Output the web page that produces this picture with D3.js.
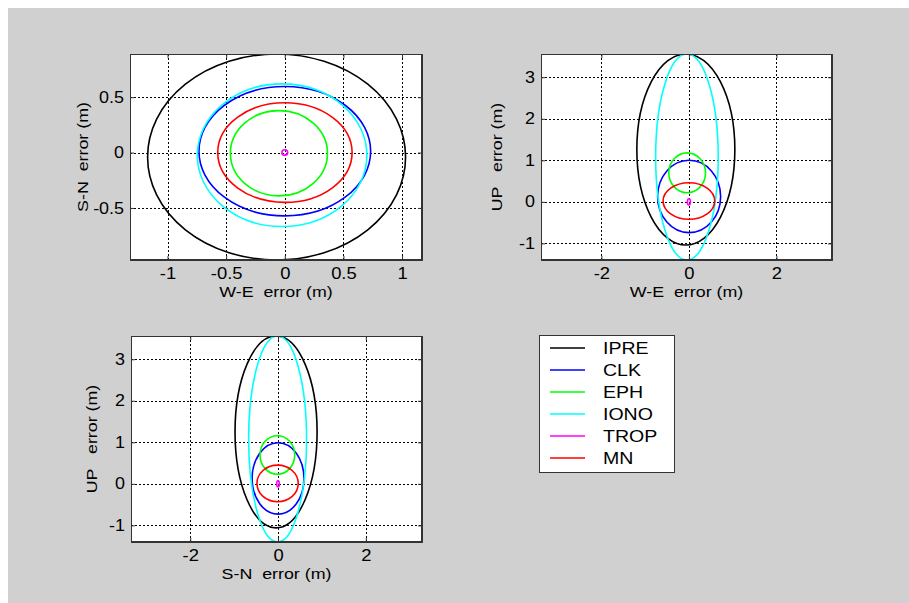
<!DOCTYPE html>
<html>
<head>
<meta charset="utf-8">
<script src="https://cdn.jsdelivr.net/npm/d3@7"></script>
<style>
  body { margin: 0; background: #fff; }
  text { font-family: Arial, "Liberation Sans", sans-serif; fill: #000; }
  /* the original bitmap fonts are noticeably wider than Arial */
  .wide { transform-box: fill-box; transform-origin: 50% 50%; transform: scaleX(1.15); }
  .wide-r { transform-box: fill-box; transform-origin: 100% 50%; transform: scaleX(1.12); }
  .wide-l { transform-box: fill-box; transform-origin: 0% 50%; transform: scaleX(1.15); }
</style>
</head>
<body>
<div id="chart"></div>
<script>
// Error sources and their colours
const sources = ["IPRE", "CLK", "EPH", "IONO", "TROP", "MN"];
const sourceColors = ["#000000", "#0000ff", "#00ff00", "#00ffff", "#ff00ff", "#ff0000"];

// Horizontal error ellipses (W-E vs S-N), in metres
const hzCenterWE = [-0.07, 0.0, -0.05, -0.023, 0.0, 0.001];
const hzCenterSN = [-0.04, 0.012, -0.006, -0.024, 0.0, 0.0];
const hzRadiusWE = [1.10, 0.732, 0.414, 0.723, 0.025, 0.573];
const hzRadiusSN = [0.93, 0.584, 0.385, 0.644, 0.025, 0.45];

// W-E vs UP error ellipses
const weUpCenterWE = [-0.07, 0.005, -0.04, -0.045, 0.0, 0.0];
const weUpCenterUP = [1.26, 0.13, 0.70, 1.08, 0.0, 0.02];
const weUpRadiusWE = [1.12, 0.72, 0.42, 0.715, 0.035, 0.59];
const weUpRadiusUP = [2.30, 0.87, 0.48, 2.48, 0.075, 0.44];

// S-N vs UP error ellipses
const snUpCenterSN = [-0.045, 0.0, -0.015, -0.01, 0.0, -0.01];
const snUpCenterUP = [1.25, 0.13, 0.695, 1.08, 0.0, 0.01];
const snUpRadiusSN = [0.935, 0.59, 0.395, 0.66, 0.03, 0.47];
const snUpRadiusUP = [2.31, 0.86, 0.465, 2.48, 0.075, 0.44];

// Axis ticks
const hzTicksX = [-1, -0.5, 0, 0.5, 1];
const hzTicksY = [-0.5, 0, 0.5];
const upTicksX = [-2, 0, 2];
const upTicksY = [-1, 0, 1, 2, 3];

const W = 909, H = 603;

const svg = d3.select("#chart")
  .append("svg")
  .attr("width", W)
  .attr("height", H);

// figure background (white strip top/left like the original export)
svg.append("rect").attr("x", 8).attr("y", 8).attr("width", W - 8).attr("height", H - 8).attr("fill", "#d0d0d0");

// plain hyphen for negatives, as in the original
const fmt = d => String(d);

function drawPanel(opts) {
  const { id, left, top, width, height, xDomain, yDomain, xTicks, yTicks,
          xLabel, yLabel, yLabelOffset, cx, cy, rx, ry } = opts;

  const x = d3.scaleLinear().domain(xDomain).range([left, left + width]);
  const y = d3.scaleLinear().domain(yDomain).range([top + height, top]);

  const g = svg.append("g");

  g.append("rect")
    .attr("x", left).attr("y", top)
    .attr("width", width).attr("height", height)
    .attr("fill", "#fff");

  g.append("clipPath").attr("id", id)
    .append("rect")
    .attr("x", left).attr("y", top)
    .attr("width", width).attr("height", height);

  // dotted grid
  g.selectAll(".gx").data(xTicks).enter().append("line")
    .attr("x1", d => Math.round(x(d)) + 0.5).attr("x2", d => Math.round(x(d)) + 0.5)
    .attr("y1", top).attr("y2", top + height)
    .attr("stroke", "#000").attr("stroke-width", 1).attr("stroke-dasharray", "2,2");
  g.selectAll(".gy").data(yTicks).enter().append("line")
    .attr("y1", d => Math.round(y(d)) + 0.5).attr("y2", d => Math.round(y(d)) + 0.5)
    .attr("x1", left).attr("x2", left + width)
    .attr("stroke", "#000").attr("stroke-width", 1).attr("stroke-dasharray", "2,2");

  // ellipses
  g.append("g").attr("clip-path", `url(#${id})`)
    .selectAll("ellipse")
    .data(sources.map((s, i) => i))
    .enter().append("ellipse")
    .attr("cx", i => x(cx[i]))
    .attr("cy", i => y(cy[i]))
    .attr("rx", i => x(cx[i] + rx[i]) - x(cx[i]))
    .attr("ry", i => y(cy[i]) - y(cy[i] + ry[i]))
    .attr("fill", "none")
    .attr("stroke", i => sourceColors[i])
    .attr("stroke-width", 1.6);

  // axes (ticks inward, like MATLAB)
  const xAxis = g.append("g")
    .attr("transform", `translate(0,${top + height})`)
    .call(d3.axisBottom(x).tickValues(xTicks).tickSize(-4).tickPadding(8).tickFormat(fmt));
  const yAxis = g.append("g")
    .attr("transform", `translate(${left},0)`)
    .call(d3.axisLeft(y).tickValues(yTicks).tickSize(-4).tickPadding(6).tickFormat(fmt));
  g.append("g")
    .attr("transform", `translate(0,${top})`)
    .call(d3.axisTop(x).tickValues(xTicks).tickSize(-4).tickFormat(""));
  g.append("g")
    .attr("transform", `translate(${left + width},0)`)
    .call(d3.axisRight(y).tickValues(yTicks).tickSize(-4).tickFormat(""));

  g.selectAll(".domain").attr("stroke", "#333");
  g.selectAll(".tick line").attr("stroke", "#333");
  g.selectAll(".tick text").attr("font-size", 16).attr("fill", "#000")
    .style("font-family", "Arial, 'Liberation Sans', sans-serif");
  xAxis.selectAll(".tick text").attr("class", "wide");
  yAxis.selectAll(".tick text").attr("class", "wide-r");

  // box outline
  g.append("rect")
    .attr("x", left + 0.5).attr("y", top + 0.5)
    .attr("width", width - 1).attr("height", height - 1)
    .attr("fill", "none").attr("stroke", "#333");

  g.append("text")
    .attr("class", "wide")
    .attr("x", left + width / 2)
    .attr("y", top + height + 37)
    .attr("text-anchor", "middle")
    .attr("font-size", 15.5)
    .style("white-space", "pre")
    .text(xLabel);

  g.append("text")
    .attr("transform", `translate(${left - yLabelOffset},${top + height / 2}) rotate(-90) scale(1.15,1)`)
    .attr("text-anchor", "middle")
    .attr("font-size", 15.5)
    .style("white-space", "pre")
    .text(yLabel);
}

drawPanel({
  id: "clipHz", left: 130, top: 54, width: 292, height: 206,
  xDomain: [-1.32, 1.17], yDomain: [-0.97, 0.89],
  xTicks: hzTicksX, yTicks: hzTicksY,
  xLabel: "W-E  error (m)", yLabel: "S-N  error (m)", yLabelOffset: 42,
  cx: hzCenterWE, cy: hzCenterSN, rx: hzRadiusWE, ry: hzRadiusSN
});

drawPanel({
  id: "clipWeUp", left: 541, top: 54, width: 291, height: 206,
  xDomain: [-3.38, 3.27], yDomain: [-1.40, 3.56],
  xTicks: upTicksX, yTicks: upTicksY,
  xLabel: "W-E  error (m)", yLabel: "UP   error (m)", yLabelOffset: 39,
  cx: weUpCenterWE, cy: weUpCenterUP, rx: weUpRadiusWE, ry: weUpRadiusUP
});

drawPanel({
  id: "clipSnUp", left: 131, top: 336, width: 291, height: 206,
  xDomain: [-3.35, 3.28], yDomain: [-1.40, 3.56],
  xTicks: upTicksX, yTicks: upTicksY,
  xLabel: "S-N  error (m)", yLabel: "UP   error (m)", yLabelOffset: 34,
  cx: snUpCenterSN, cy: snUpCenterUP, rx: snUpRadiusSN, ry: snUpRadiusUP
});

// legend
const legend = svg.append("g").attr("transform", "translate(539,335)");
legend.append("rect")
  .attr("x", 0.5).attr("y", 0.5)
  .attr("width", 135).attr("height", 137)
  .attr("fill", "#fff").attr("stroke", "#333");

const rowY = d3.scalePoint().domain(sources).range([13, 123]);

const rows = legend.selectAll(".row").data(sources).enter().append("g")
  .attr("transform", d => `translate(0,${rowY(d)})`);
rows.append("line")
  .attr("x1", 11).attr("x2", 46)
  .attr("stroke", (d, i) => sourceColors[i]).attr("stroke-width", 1.6);
rows.append("text")
  .attr("class", "wide-l")
  .attr("x", 64).attr("y", 6)
  .attr("font-size", 17)
  .text(d => d);
</script>
</body>
</html>
